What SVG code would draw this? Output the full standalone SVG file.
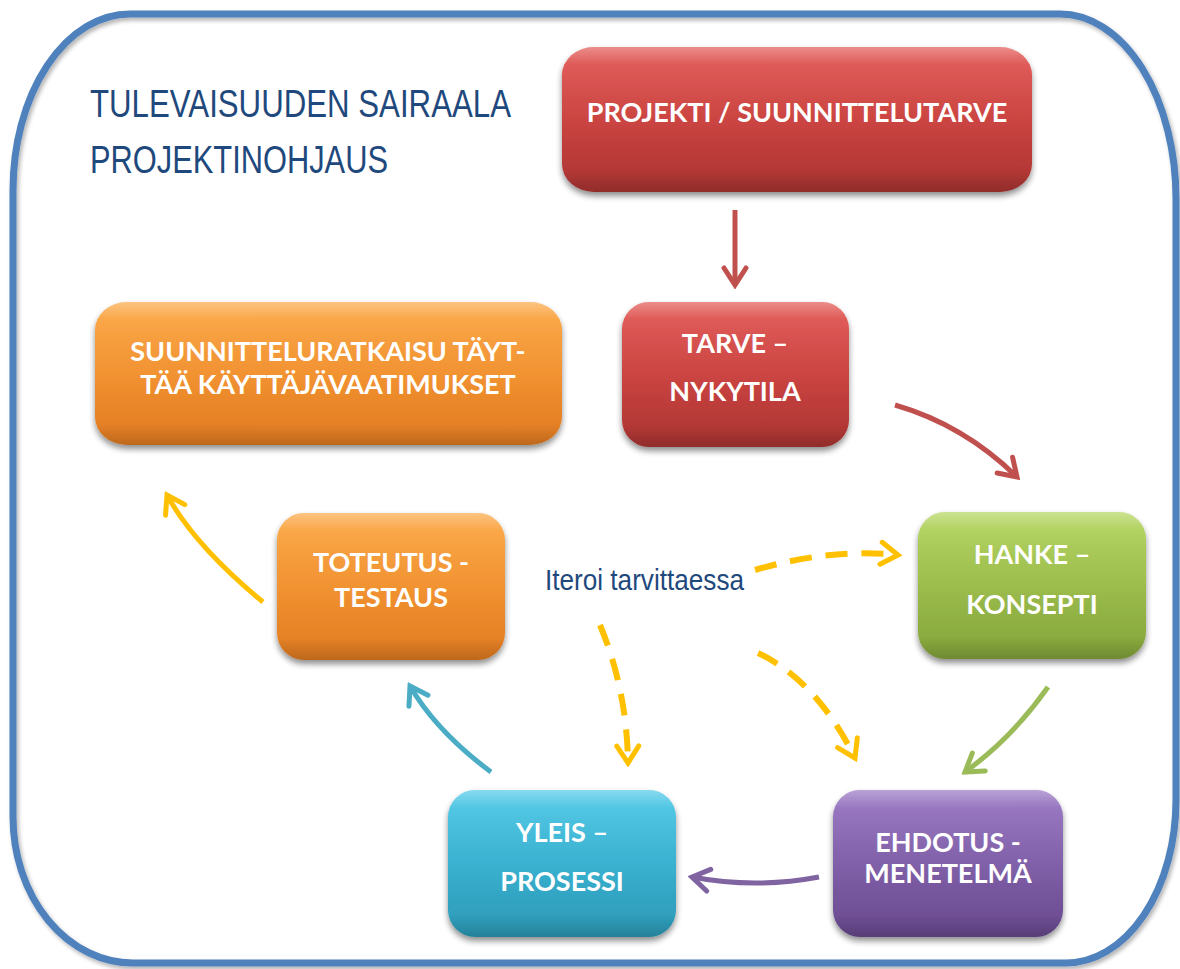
<svg xmlns="http://www.w3.org/2000/svg" width="1180" height="969" viewBox="0 0 1180 969">
  <defs>
    <style>
      .box { filter: url(#shadow); }
      .label { font-family: Lato, "Open Sans", sans-serif; font-weight: bold; fill: #ffffff; text-anchor: middle; font-size: 27px; }
      .title { font-family: "Liberation Sans", Arial, sans-serif; fill: #1f497d; }
      .conn { fill: none; stroke-width: 5; stroke-linecap: butt; }
      .dash { stroke-dasharray: 22 14; stroke-width: 6; }
      .gloss { fill: url(#gloss); }
    </style>
    <filter id="shadow" x="-10%" y="-10%" width="120%" height="130%">
      <feGaussianBlur in="SourceAlpha" stdDeviation="3"/>
      <feOffset dx="0" dy="4" result="b"/>
      <feComponentTransfer><feFuncA type="linear" slope="0.45"/></feComponentTransfer>
      <feMerge><feMergeNode/><feMergeNode in="SourceGraphic"/></feMerge>
    </filter>
    <filter id="frameShadow" x="-5%" y="-5%" width="110%" height="110%">
      <feGaussianBlur in="SourceAlpha" stdDeviation="2"/>
      <feOffset dx="2" dy="3"/>
      <feComponentTransfer><feFuncA type="linear" slope="0.3"/></feComponentTransfer>
      <feMerge><feMergeNode/><feMergeNode in="SourceGraphic"/></feMerge>
    </filter>
    <linearGradient id="gRed" x1="0" y1="0" x2="0" y2="1">
      <stop offset="0" stop-color="#e0504c"/>
      <stop offset="0.5" stop-color="#cf4340"/>
      <stop offset="1" stop-color="#a93432"/>
    </linearGradient>
    <linearGradient id="gOrange" x1="0" y1="0" x2="0" y2="1">
      <stop offset="0" stop-color="#fba33c"/>
      <stop offset="0.5" stop-color="#f7942f"/>
      <stop offset="1" stop-color="#df7a22"/>
    </linearGradient>
    <linearGradient id="gGreen" x1="0" y1="0" x2="0" y2="1">
      <stop offset="0" stop-color="#afd356"/>
      <stop offset="0.5" stop-color="#9ec04b"/>
      <stop offset="1" stop-color="#82a23a"/>
    </linearGradient>
    <linearGradient id="gPurple" x1="0" y1="0" x2="0" y2="1">
      <stop offset="0" stop-color="#9470c0"/>
      <stop offset="0.5" stop-color="#8160ab"/>
      <stop offset="1" stop-color="#67488c"/>
    </linearGradient>
    <linearGradient id="gBlue" x1="0" y1="0" x2="0" y2="1">
      <stop offset="0" stop-color="#46c6e6"/>
      <stop offset="0.5" stop-color="#38b4d4"/>
      <stop offset="1" stop-color="#2c97b4"/>
    </linearGradient>
    <linearGradient id="gloss" x1="0" y1="0" x2="0" y2="1">
      <stop offset="0" stop-color="#ffffff" stop-opacity="0.35"/>
      <stop offset="0.12" stop-color="#ffffff" stop-opacity="0.08"/>
      <stop offset="0.85" stop-color="#000000" stop-opacity="0"/>
      <stop offset="1" stop-color="#000000" stop-opacity="0.15"/>
    </linearGradient>
    <marker id="mRed" viewBox="-20 -14 24 28" markerUnits="userSpaceOnUse" markerWidth="24" markerHeight="28" refX="0" refY="0" orient="auto">
      <path d="M-17,-11 L0,0 L-17,11" fill="none" stroke="#c0504d" stroke-width="5" stroke-linecap="round" stroke-linejoin="miter"/>
    </marker>
    <marker id="mGreen" viewBox="-20 -14 24 28" markerUnits="userSpaceOnUse" markerWidth="24" markerHeight="28" refX="0" refY="0" orient="auto">
      <path d="M-17,-11 L0,0 L-17,11" fill="none" stroke="#9bbb59" stroke-width="5" stroke-linecap="round"/>
    </marker>
    <marker id="mPurple" viewBox="-20 -14 24 28" markerUnits="userSpaceOnUse" markerWidth="24" markerHeight="28" refX="0" refY="0" orient="auto">
      <path d="M-17,-11 L0,0 L-17,11" fill="none" stroke="#8064a2" stroke-width="5" stroke-linecap="round"/>
    </marker>
    <marker id="mTeal" viewBox="-20 -14 24 28" markerUnits="userSpaceOnUse" markerWidth="24" markerHeight="28" refX="0" refY="0" orient="auto">
      <path d="M-17,-11 L0,0 L-17,11" fill="none" stroke="#4bacc6" stroke-width="5" stroke-linecap="round"/>
    </marker>
    <marker id="mYellow" viewBox="-20 -14 24 28" markerUnits="userSpaceOnUse" markerWidth="24" markerHeight="28" refX="0" refY="0" orient="auto">
      <path d="M-17,-11 L0,0 L-17,11" fill="none" stroke="#ffc000" stroke-width="5" stroke-linecap="round" stroke-dasharray="none"/>
    </marker>
  </defs>

  <rect width="1180" height="969" fill="#ffffff"/>

  <!-- outer rounded frame -->
  <path id="frame" filter="url(#frameShadow)" fill="none" stroke="#4f81bd" stroke-width="7"
        d="M130,14 L1060,14 A116,185 0 0 1 1176,199 L1176,800 A110,163 0 0 1 1066,963 L133,963 A120,146 0 0 1 13,817 L13,190 A117,176 0 0 1 130,14 Z"/>

  <!-- heading -->
  <g id="heading" class="title">
    <text x="90" y="117" font-size="38" textLength="421" lengthAdjust="spacingAndGlyphs">TULEVAISUUDEN SAIRAALA</text>
    <text x="90" y="173" font-size="38" textLength="298" lengthAdjust="spacingAndGlyphs">PROJEKTINOHJAUS</text>
  </g>

  <!-- connectors -->
  <g id="connectors">
    <path class="conn" stroke="#c0504d" marker-end="url(#mRed)" d="M735,210 L735,285"/>
    <path class="conn" stroke="#c0504d" marker-end="url(#mRed)" d="M895,405 Q964,425 1017,477"/>
    <path class="conn" stroke="#9bbb59" marker-end="url(#mGreen)" d="M1048,687 Q1012,738 965,772"/>
    <path class="conn" stroke="#8064a2" marker-end="url(#mPurple)" d="M819,877 Q755,889 692,877"/>
    <path class="conn" stroke="#4bacc6" marker-end="url(#mTeal)" d="M491,772 Q436,731 410,686"/>
    <path class="conn" stroke="#ffc000" marker-end="url(#mYellow)" d="M263,602 Q195,546 167,495"/>
    <path class="conn dash" stroke="#ffc000" marker-end="url(#mYellow)" d="M755,570 Q830,548 898,555"/>
    <path class="conn dash" stroke="#ffc000" marker-end="url(#mYellow)" d="M758,653 Q817,681 855,758"/>
    <path class="conn dash" stroke="#ffc000" marker-end="url(#mYellow)" d="M600,625 Q627,690 628,763"/>
  </g>

  <!-- iteration label -->
  <text id="iterate" class="title" x="545" y="590" font-size="30" textLength="199" lengthAdjust="spacingAndGlyphs">Iteroi tarvittaessa</text>

  <!-- nodes -->
  <g id="node-projekti">
    <rect class="box" x="562" y="47" width="470" height="145" rx="32" ry="28" fill="url(#gRed)"/>
    <rect class="gloss" x="562" y="47" width="470" height="145" rx="32" ry="28"/>
    <text class="label" x="797" y="122">PROJEKTI / SUUNNITTELUTARVE</text>
  </g>

  <g id="node-ratkaisu">
    <rect class="box" x="95" y="302" width="467" height="143" rx="32" ry="28" fill="url(#gOrange)"/>
    <rect class="gloss" x="95" y="302" width="467" height="143" rx="32" ry="28"/>
    <text class="label" x="328" y="361">SUUNNITTELURATKAISU TÄYT-</text>
    <text class="label" x="328" y="394">TÄÄ KÄYTTÄJÄVAATIMUKSET</text>
  </g>

  <g id="node-tarve">
    <rect class="box" x="622" y="302" width="227" height="145" rx="27" ry="27" fill="url(#gRed)"/>
    <rect class="gloss" x="622" y="302" width="227" height="145" rx="27" ry="27"/>
    <text class="label" x="735" y="353">TARVE –</text>
    <text class="label" x="735" y="401">NYKYTILA</text>
  </g>

  <g id="node-hanke">
    <rect class="box" x="918" y="512" width="228" height="147" rx="27" ry="27" fill="url(#gGreen)"/>
    <rect class="gloss" x="918" y="512" width="228" height="147" rx="27" ry="27"/>
    <text class="label" x="1032" y="564">HANKE –</text>
    <text class="label" x="1032" y="614">KONSEPTI</text>
  </g>

  <g id="node-ehdotus">
    <rect class="box" x="833" y="790" width="230" height="147" rx="27" ry="27" fill="url(#gPurple)"/>
    <rect class="gloss" x="833" y="790" width="230" height="147" rx="27" ry="27"/>
    <text class="label" x="948" y="852">EHDOTUS -</text>
    <text class="label" x="948" y="883">MENETELMÄ</text>
  </g>

  <g id="node-yleis">
    <rect class="box" x="448" y="790" width="228" height="147" rx="27" ry="27" fill="url(#gBlue)"/>
    <rect class="gloss" x="448" y="790" width="228" height="147" rx="27" ry="27"/>
    <text class="label" x="562" y="842">YLEIS –</text>
    <text class="label" x="562" y="891">PROSESSI</text>
  </g>

  <g id="node-toteutus">
    <rect class="box" x="277" y="513" width="228" height="147" rx="27" ry="27" fill="url(#gOrange)"/>
    <rect class="gloss" x="277" y="513" width="228" height="147" rx="27" ry="27"/>
    <text class="label" x="391" y="572">TOTEUTUS -</text>
    <text class="label" x="391" y="607">TESTAUS</text>
  </g>
</svg>
